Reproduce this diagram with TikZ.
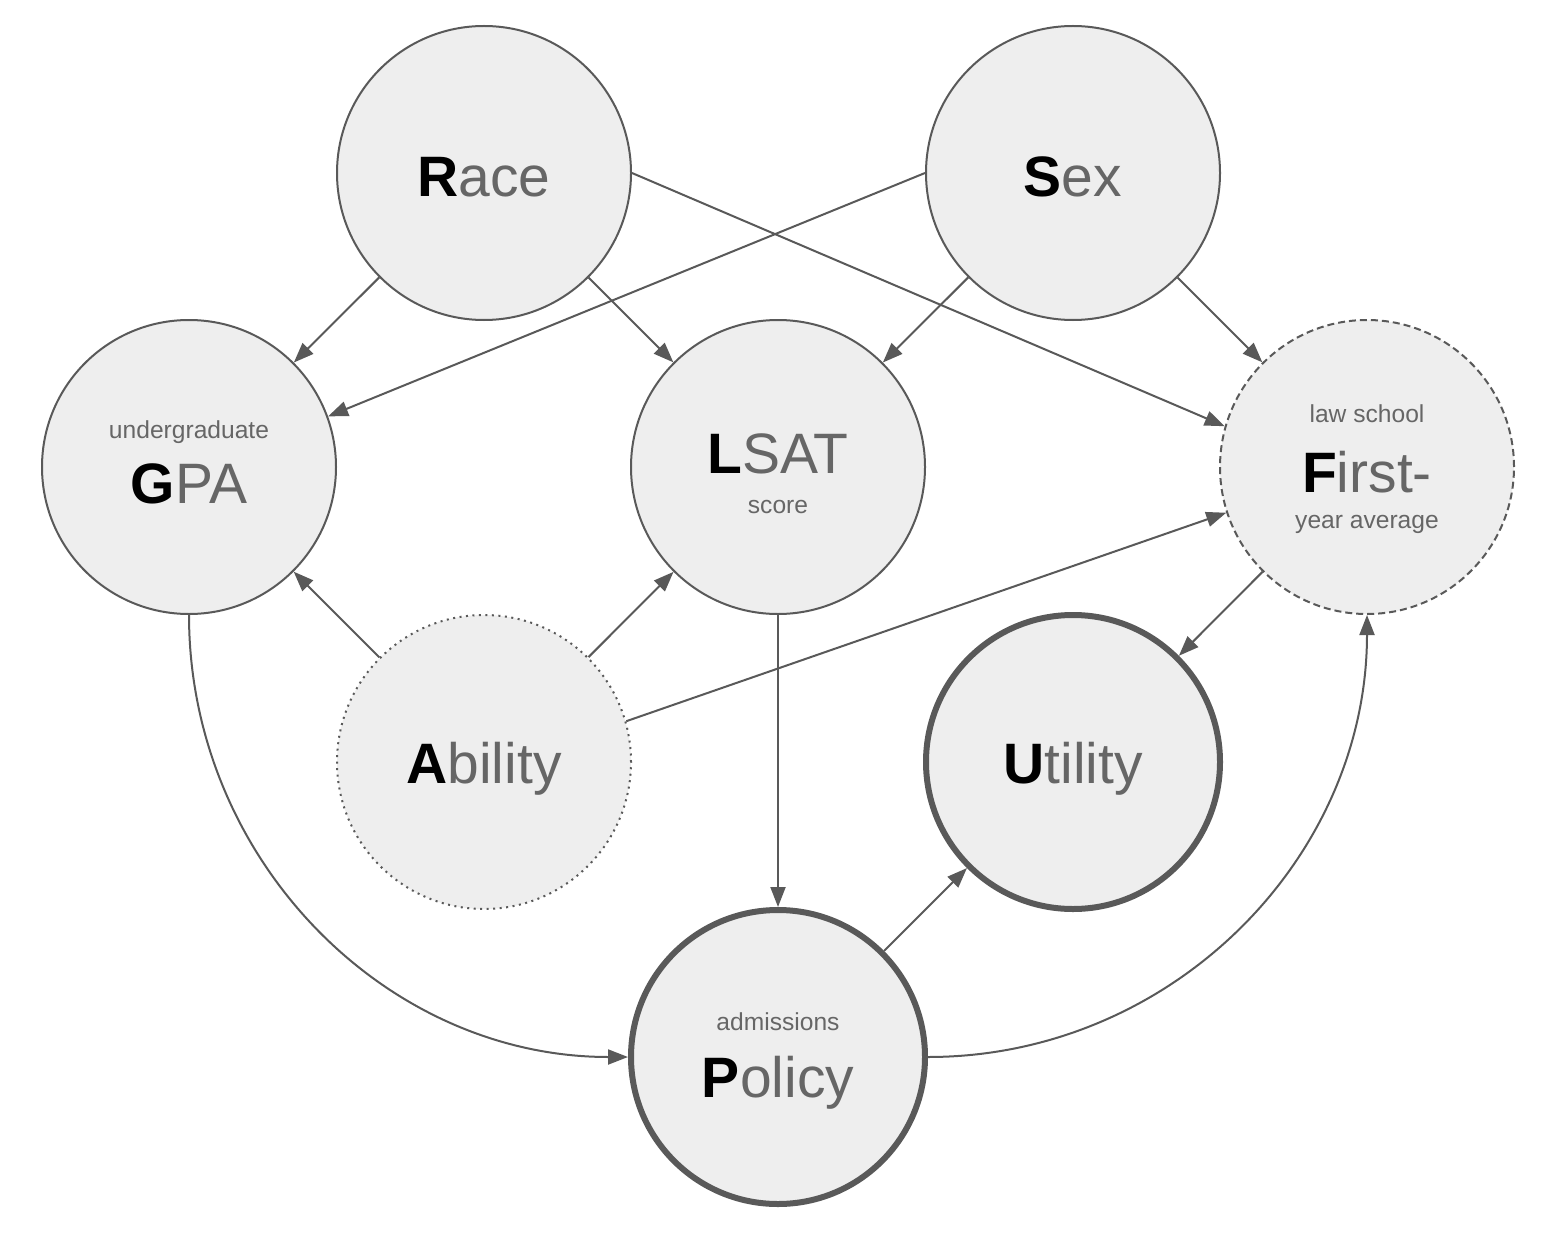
\documentclass[tikz,border=0pt]{standalone}
\usepackage{fontspec}
\setmainfont{Liberation Sans}
\usepackage{xcolor}
\usetikzlibrary{
    arrows.meta,
    calc,
    positioning
}
\definecolor{linegray}{HTML}{595959}
\definecolor{nodefill}{HTML}{EEEEEE}
\definecolor{textgray}{HTML}{666666}
\tikzset{
    var/.style={circle, draw=linegray, fill=nodefill, line width=2pt, minimum size=294pt, inner sep=0pt},
    decision/.style={var, line width=6pt},
    latent/.style={var, dash pattern=on 2pt off 4.5pt},
    outcome/.style={var, dash pattern=on 7pt off 4pt},
    bigtext/.style={anchor=base, text=textgray, font=\fontsize{57}{60}\selectfont},
    smalltext/.style={anchor=base, text=textgray, font=\fontsize{24.6}{28}\selectfont}
}
\newcommand{\capletter}[1]{{\bfseries\color{black}#1}}

\begin{document}
\begin{tikzpicture}[x=1pt, y=1pt, >={Triangle[length=20pt,width=15pt]}]
                        \useasboundingbox (0, 0) rectangle (1557, -1233);

                        \node[var] (race) at (484, -173) {};
                        \node[var] (sex) at (1073, -173) {};
                        \node[var] (gpa) at (189, -467) {};
                        \node[var] (lsat) at (778, -467) {};
                        \node[outcome] (first) at (1367, -467) {};
                        \node[latent] (ability) at (484, -762) {};
                        \node[decision] (utility) at (1073, -762) {};
                        \node[decision] (policy) at (778, -1057) {};

                        \node[bigtext] (race-t) at (484, -197) {\capletter{R}ace};
                        \node[bigtext] (sex-t) at (1073, -197) {\capletter{S}ex};
                        \node[smalltext] (gpa-s) at (189, -438) {undergraduate};
                        \node[bigtext] (gpa-t) at (189, -503) {\capletter{G}PA};
                        \node[bigtext] (lsat-t) at (778, -473) {\capletter{L}SAT};
                        \node[smalltext] (lsat-s) at (778, -513) {score};
                        \node[smalltext] (first-s) at (1367, -422) {law school};
                        \node[bigtext] (first-t) at (1367, -492) {\capletter{F}irst-};
                        \node[smalltext] (first-u) at (1367, -528) {year average};
                        \node[bigtext] (ability-t) at (484, -783) {\capletter{A}bility};
                        \node[bigtext] (utility-t) at (1073, -783) {\capletter{U}tility};
                        \node[smalltext] (policy-s) at (778, -1030) {admissions};
                        \node[bigtext] (policy-t) at (778, -1097) {\capletter{P}olicy};

                        \draw[linegray, line width=2pt]
                        (race) edge[->] (gpa)
                        (race) edge[->] (lsat)
                        (race.east) edge[->] (first.164)
                        (sex.west) edge[->] (gpa.20)
                        (sex) edge[->] (lsat)
                        (sex) edge[->] (first)
                        (ability) edge[->] (gpa)
                        (ability) edge[->] (lsat)
                        (ability.16) edge[->] (first.198)
                        (lsat) edge[->] (policy)
                        (gpa.south) edge[->, out=-90, in=180] (policy.west)
                        (policy.east) edge[->, out=0, in=-90] (first.south)
                        (policy) edge[->] (utility)
                        (first) edge[->] (utility);
                    \end{tikzpicture}
\end{document}
